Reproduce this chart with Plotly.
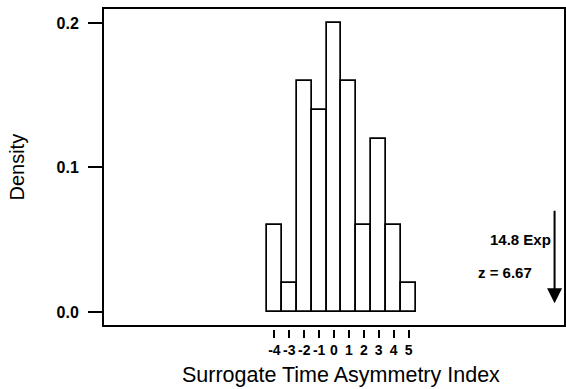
import plotly.graph_objects as go

# Histogram of surrogate time-asymmetry index values (unit-wide bins)
bin_centers = [-4, -3, -2, -1, 0, 1, 2, 3, 4, 5]
densities = [0.06, 0.02, 0.16, 0.14, 0.20, 0.16, 0.06, 0.12, 0.06, 0.02]

x_tick_vals = [-4, -3, -2, -1, 0, 1, 2, 3, 4, 5]
x_tick_text = ["-4", "-3", "-2", "-1", "0", "1", "2", "3", "4", "5"]
y_tick_vals = [0.0, 0.1, 0.2]
y_tick_text = ["0.0", "0.1", "0.2"]

experimental_value = 14.8
z_score = 6.67

FONT = "Liberation Sans, Arial, sans-serif"

fig = go.Figure()
fig.add_trace(go.Bar(
    x=bin_centers,
    y=densities,
    width=1.0,
    marker=dict(color="white", line=dict(color="black", width=1.7)),
    showlegend=False,
    hoverinfo="x+y",
))

# Arrow marking the experimental value
fig.add_annotation(
    x=experimental_value, y=0.006, ax=experimental_value, ay=0.071,
    xref="x", yref="y", axref="x", ayref="y",
    showarrow=True, arrowhead=2, arrowsize=1.5, arrowwidth=2,
    arrowcolor="black", standoff=0, text="",
)
fig.add_annotation(
    x=experimental_value, y=0.05, xref="x", yref="y",
    text=f"<b>{experimental_value} Exp</b>", showarrow=False,
    xanchor="right", yanchor="middle", xshift=-2,
    font=dict(family=FONT, size=15, color="black"),
)
fig.add_annotation(
    x=experimental_value, y=0.027, xref="x", yref="y",
    text=f"<b>z = {z_score}</b>", showarrow=False,
    xanchor="right", yanchor="middle", xshift=-21,
    font=dict(family=FONT, size=15, color="black"),
)

# Axis titles
fig.add_annotation(
    x=0.5, y=-0.143, xref="x", yref="paper",
    text="Surrogate Time Asymmetry Index", showarrow=False,
    xanchor="center", yanchor="middle",
    font=dict(family=FONT, size=21.5, color="black"),
)
fig.add_annotation(
    x=-0.186, y=0.1, xref="paper", yref="y",
    text="Density", showarrow=False, textangle=-90,
    xanchor="center", yanchor="middle",
    font=dict(family=FONT, size=20, color="black"),
)

# Frame around the plotting region
fig.add_shape(
    type="rect", xref="x domain", yref="y domain",
    x0=0, x1=1, y0=0, y1=1,
    line=dict(color="black", width=2), fillcolor="rgba(0,0,0,0)",
)

fig.update_xaxes(
    range=[-15.5, 15.5],
    anchor="free", position=0,
    tickvals=x_tick_vals, ticktext=[f"<b>{t}</b>" for t in x_tick_text],
    ticks="outside", ticklen=8, tickwidth=2, tickcolor="black",
    showline=False, showgrid=False, zeroline=False,
    tickfont=dict(family=FONT, size=14, color="black"),
)
fig.update_yaxes(
    range=[-0.0097, 0.2104],
    domain=[0.0095, 1],
    tickvals=y_tick_vals, ticktext=[f"<b>{t}</b>" for t in y_tick_text],
    ticks="outside", ticklen=14, tickwidth=2, tickcolor="black",
    ticklabelstandoff=6,
    showline=False, showgrid=False, zeroline=False,
    tickfont=dict(family=FONT, size=16, color="black"),
)

fig.update_layout(
    width=566, height=389,
    margin=dict(l=103, r=1, t=8, b=60),
    plot_bgcolor="white", paper_bgcolor="white",
    bargap=0,
)

fig.write_html("out.html")
